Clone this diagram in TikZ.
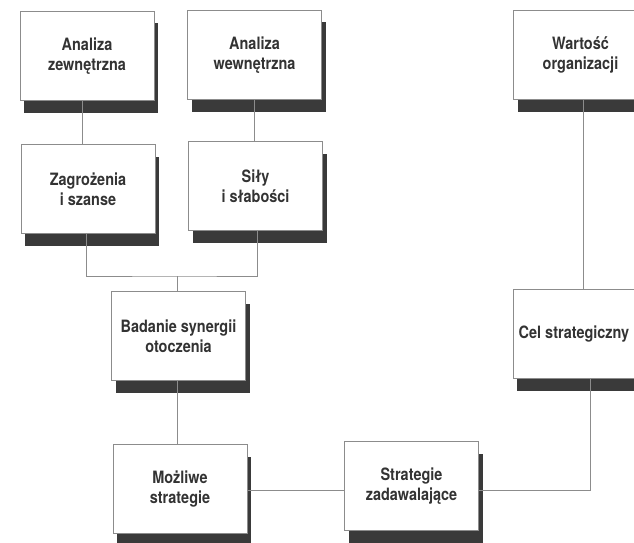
\documentclass[tikz,border=0pt]{standalone}
\usepackage{fontspec}
\newfontfamily\boxfont{TeX Gyre Heros}[FakeStretch=0.85]
\usetikzlibrary{shadows}
\definecolor{inkgray}{HTML}{333333}
\definecolor{linegray}{HTML}{8C8C8C}
\definecolor{shadowgray}{HTML}{3A3A3A}

\begin{document}
\begin{tikzpicture}[x=1pt, y=-1pt,
	stage/.style={draw=linegray, line width=0.6pt, fill=white, minimum width=134pt, minimum height=89pt,
		align=center, text=inkgray, font=\boxfont\bfseries\fontsize{17}{20}\selectfont, inner sep=2pt,
		copy shadow={shadow xshift=4pt, shadow yshift=-12pt, fill=shadowgray, draw=none}},
	link/.style={draw=linegray, line width=0.6pt}]
	\useasboundingbox (0,0) rectangle (634,543);
	% analysis row
	\node[stage] (zewn) at (87,56) {Analiza\\zewnętrzna};
	\node[stage] (wewn) at (254.5,55) {Analiza\\wewnętrzna};
	\node[stage] (wart) at (580.5,55) {Wartość\\organizacji};
	\node[stage] (zagr) at (88,189) {Zagrożenia\\i szanse};
	\node[stage] (sily) at (255.5,186) {Siły\\i słabości};
	% synergy and strategies
	\node[stage] (syn) at (178.5,336) {Badanie synergii\\otoczenia};
	\node[stage] (mozl) at (180,489) {Możliwe\\strategie};
	\node[stage] (zadaw) at (411.5,486) {Strategie\\zadawalające};
	\node[stage, minimum width=122pt] (cel) at (574,334) {Cel strategiczny};
	% joints
	\coordinate (join1) at (177,276);
	\coordinate (join2) at (590,490);
	% connectors
	\draw[link] ([xshift=-5pt]zewn.south) -- ([xshift=-5pt]zewn.south |- zagr.north);
	\draw[link] (wewn.south) -- (wewn.south |- sily.north);
	\draw[link] ([xshift=-2pt]zagr.south) |- (join1) -| ([xshift=2pt]sily.south);
	\draw[link] (join1) -- (join1 |- syn.north);
	\draw[link] (syn.south -| join1) -- (join1 |- mozl.north);
	\draw[link] (mozl.east |- join2) -- (zadaw.west |- join2);
	\draw[link] (zadaw.east |- join2) -- (join2) -- (join2 |- cel.south);
	\draw[link] ([xshift=3pt]wart.south) -- ([xshift=3pt]wart.south |- cel.north);
\end{tikzpicture}
\end{document}
